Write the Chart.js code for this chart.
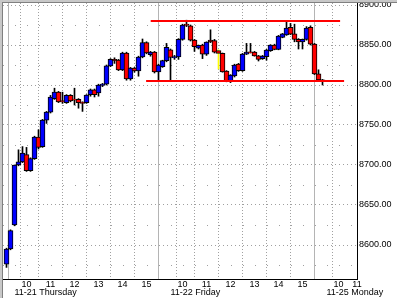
<!DOCTYPE html>
<html>
<head>
<meta charset="utf-8">
<script src="https://cdn.jsdelivr.net/npm/chart.js@4/dist/chart.umd.min.js"></script>
<style>
  body { margin: 0; background: #fff; }
  canvas { display: block; }
</style>
</head>
<body>
<canvas id="chart1" width="397" height="298"></canvas>
<script>
// 10 minute bars, 11-21 .. 11-22 (index = bar number)
var opens  = [8576,8595,8625,8700,8704,8713,8693,8708,8735,8723, 8756,8766,8783,8791,8780.5,8778,8787,8782.5,8782,8778.5,
              8778,8788,8794,8790,8799.5,8801,8824,8832,8831,8819, 8840,8807.5,8821,8817.5,8835,8853,8838,8841,8816.5,8823,
              8830.5,8844,8834,8835,8857,8876,8874,8856,8846,8850, 8838.5,8856,8855.5,8843,8839.5,8817.5,8804.5,8811.5,8826,8818,
              8838.5,8841.5,8841,8836.5,8833,8835.5,8843,8850,8844.5,8859.5, 8862.5,8872,8864,8857,8854,8857,8872,8851,8814,8806.5];
var highs  = [8596,8619,8700,8719,8723,8722,8709,8736,8744,8757, 8767,8787,8796,8792,8791,8788,8788,8796,8783,8779,
              8788,8795,8795,8801,8802,8825,8833,8834,8832,8841, 8841,8822,8822,8836,8857.5,8854,8842,8842,8826,8831,
              8852,8845,8837,8858,8876,8881,8875,8857,8850,8851, 8854,8869,8857,8844,8840,8818,8813,8826,8827,8839.5,
              8852,8852,8842,8837,8837,8844.5,8850.5,8851,8862,8864.5, 8879,8877,8876,8858,8857.5,8873,8874,8852,8819,8807];
var lows   = [8572,8594,8624,8699,8703,8692,8692,8707,8720,8722, 8752,8765,8782,8778,8777,8777,8779,8775,8771,8767,
              8777,8786,8785,8786,8798,8800,8823,8827,8818,8818, 8806,8806,8816,8811,8834,8839,8836,8815,8805,8822,
              8829,8806,8832,8832,8856,8873,8855,8842,8845,8833, 8837,8853,8840,8820,8816,8804,8803,8810,8817,8817,
              8838,8840,8836,8830,8832,8831,8842,8844,8844,8859, 8862,8863,8854,8845,8845,8856,8850,8813,8806,8800];
var closes = [8595,8618,8700,8704,8715,8693,8708,8735,8722,8756, 8766,8785,8791,8779,8779,8787,8780,8781,8778,8777,
              8787.5,8794,8788,8800,8801,8824,8832,8830.5,8819,8840, 8807.5,8821,8817.5,8835,8853,8840,8841,8816.5,8825,8830.5,
              8847,8834.5,8835.5,8857,8875,8874.5,8856,8848,8849.5,8838.5, 8853.5,8854,8841,8839.5,8816.5,8805.5,8812.5,8825,8818,8838.5,
              8841,8840,8836.5,8832,8836,8843.5,8850,8844.5,8861,8864, 8871,8863.5,8857,8854,8857,8871,8851,8814,8806.5,8805];

// channel lines drawn on the chart
var ylaRaja = [[36.05, 8880], [83.4, 8880]];
var alaRaja = [[34.9, 8805], [84.4, 8805]];

var xTicks  = [2, 5, 11, 17, 23, 29, 35, 41, 44, 50, 56, 62, 68, 74, 80, 83, 87.625];
var xLabels = ['', '10', '11', '12', '13', '14', '15', '', '10', '11', '12', '13', '14', '15', '', '10', '11'];
var dayTicks  = [2, 41, 80];
var dayLabels = ['11-21 Thursday', '11-22 Friday', '11-25 Monday'];
var yTicks = [8575, 8600, 8625, 8650, 8675, 8700, 8725, 8750, 8775, 8800, 8825, 8850, 8875, 8900];

var fontti = { family: "'Liberation Sans', Arial, sans-serif", size: 9 };

var runko = [], varjo = [], varit = [], varjoVarit = [];
for (let i = 0; i < opens.length; i++) {
    runko.push({ x: i, y: [opens[i], closes[i]] });
    varjo.push({ x: i, y: [lows[i], highs[i]] });
    varit.push(closes[i] > opens[i] ? '#0000ff' : '#ff0000');
    varjoVarit.push(i == 53 ? '#ffff00' : '#000000');
}

function viiva(p) {
    return p.map(function (a) { return { x: a[0], y: a[1] }; });
}

var kehys = {
    id: 'kehys',
    afterDraw(chart) {
        let c = chart.ctx;
        c.save();
        c.fillStyle = '#c8c8c8';
        c.fillRect(0, 0, chart.width, 2);
        c.fillRect(0, 0, 2, chart.height);
        c.fillStyle = '#808080';
        c.fillRect(2, 2, chart.width - 2, 1);
        c.fillRect(2, 2, 1, chart.height - 2);
        c.restore();
    }
};

new Chart(document.getElementById('chart1'), {
    type: 'bar',
    data: {
        datasets: [
            { type: 'line', data: viiva(ylaRaja), borderColor: '#ff0000', borderWidth: 2, pointRadius: 0 },
            { type: 'line', data: viiva(alaRaja), borderColor: '#ff0000', borderWidth: 2, pointRadius: 0 },
            { data: runko, backgroundColor: varit, borderColor: '#000000', borderWidth: 1,
              borderSkipped: false, barThickness: 5, grouped: false },
            { data: varjo, backgroundColor: varjoVarit, borderWidth: 0, barThickness: 1, grouped: false }
        ]
    },
    options: {
        responsive: false,
        animation: false,
        devicePixelRatio: 1,
        layout: { padding: { left: 3, top: 3, right: 0, bottom: 0 } },
        plugins: { legend: { display: false }, tooltip: { enabled: false } },
        scales: {
            x: {
                type: 'linear', min: -0.875, max: 87.625, offset: false, weight: 0,
                afterBuildTicks: s => { s.ticks = xTicks.map(v => ({ value: v })); },
                afterFit: s => { s.height = 9; s.paddingLeft = 0; s.paddingRight = 0; },
                ticks: { autoSkip: false, maxRotation: 0, minRotation: 0, padding: 0, color: '#000', font: fontti,
                         callback: (v, i) => xLabels[i] },
                grid: {
                    drawTicks: false,
                    lineWidth: 1,
                    color: ctx => {
                        if (ctx.type !== 'tick') return '#a0a0a0';
                        if (ctx.index == xTicks.length - 1) return 'rgba(0,0,0,0)';
                        return dayTicks.indexOf(ctx.tick.value) >= 0 ? '#b4b4b4' : '#a0a0a0';
                    }
                },
                border: {
                    color: '#000',
                    dash: ctx => (ctx.type === 'tick' && dayTicks.indexOf(ctx.tick.value) < 0) ? [1, 2] : []
                }
            },
            x2: {
                type: 'linear', position: 'bottom', min: -0.875, max: 87.625, offset: false, weight: 1,
                afterBuildTicks: s => { s.ticks = dayTicks.map(v => ({ value: v })); },
                afterFit: s => { s.height = 10; s.paddingLeft = 0; s.paddingRight = 0; },
                ticks: { autoSkip: false, maxRotation: 0, minRotation: 0, padding: -1, align: 'start', color: '#000',
                         font: fontti, callback: (v, i) => dayLabels[i] },
                grid: { display: false, drawTicks: false },
                border: { display: false }
            },
            y: {
                position: 'right', min: 8557.5, max: 8902.5,
                afterBuildTicks: s => { s.ticks = yTicks.map(v => ({ value: v })); },
                afterFit: s => { s.width = 40; s.paddingTop = 0; s.paddingBottom = 0; },
                ticks: { padding: 2, color: '#000', font: fontti,
                         callback: v => (v % 50 === 0 ? v.toFixed(2) : '') },
                grid: { drawTicks: false, color: '#a0a0a0', lineWidth: 1 },
                border: {
                    color: '#000',
                    dash: ctx => ctx.type === 'tick' ? (ctx.tick.value % 50 === 0 ? [1, 3] : [1, 11]) : []
                }
            }
        }
    },
    plugins: [kehys]
});
</script>
</body>
</html>
